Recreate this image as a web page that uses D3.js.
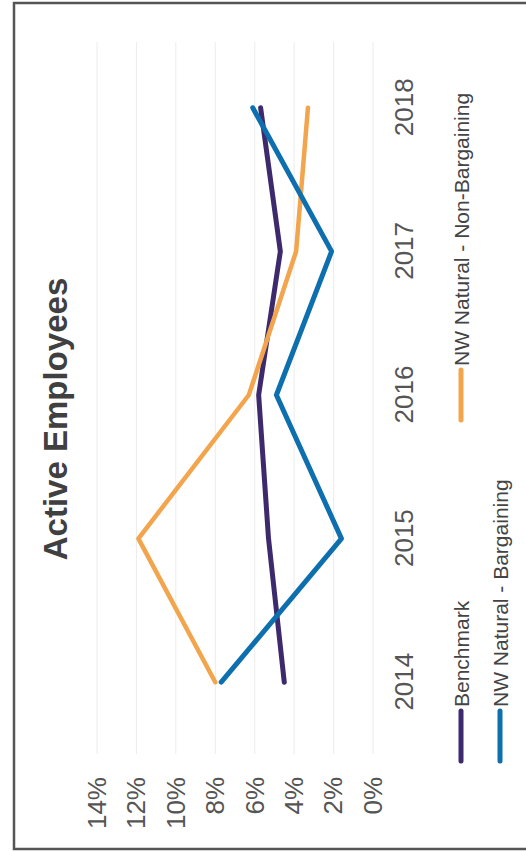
<!DOCTYPE html>
<html>
<head>
<meta charset="utf-8">
<script src="https://cdn.jsdelivr.net/npm/d3@7"></script>
<style>
  body { margin: 0; background: #fff; }
  text { font-family: "Liberation Sans", Arial, sans-serif; }
</style>
</head>
<body>
<div id="container"></div>
<script>
// CONSTANTS AND GLOBALS
// the picture is a scanned page turned on its side, so the chart is drawn
// in its normal frame (852 wide, 526 tall) and rotated -90deg
const pageW = 526, pageH = 852;
const W = pageH, H = pageW;
const margin = {left: 98, right: 36, top: 97, bottom: 153};

// DATA
const years = ["2014", "2015", "2016", "2017", "2018"];
const benchmark = [0.045, 0.053, 0.058, 0.047, 0.057];
const bargaining = [0.077, 0.016, 0.049, 0.021, 0.061];
const nonBargaining = [0.080, 0.119, 0.063, 0.039, 0.033];
const yTicks = [0, 0.02, 0.04, 0.06, 0.08, 0.10, 0.12, 0.14];

const series = [
  {name: "Benchmark", values: benchmark, color: "#3d2a6c", width: 5},
  {name: "NW Natural - Non-Bargaining", values: nonBargaining, color: "#f2a54c", width: 4.5},
  {name: "NW Natural - Bargaining", values: bargaining, color: "#0d6fae", width: 5}
];

const svg = d3.select("#container")
  .append("svg")
  .attr("width", pageW)
  .attr("height", pageH);

// scanned frame
svg.append("path")
  .attr("d", "M530,3 L14,3 L14,849 L530,849")
  .attr("fill", "none")
  .attr("stroke", "#555")
  .attr("stroke-width", 2.5);

const g = svg.append("g")
  .attr("transform", `translate(0, ${pageH}) rotate(-90)`);

// SCALES
const xScale = d3.scalePoint()
  .domain(years)
  .range([margin.left, W - margin.right])
  .padding(0.5);

const yScale = d3.scaleLinear()
  .domain([0, 0.14])
  .range([373, margin.top]);

// gridlines
g.selectAll("line.grid")
  .data(yTicks)
  .join("line")
  .attr("class", "grid")
  .attr("x1", margin.left)
  .attr("x2", W - 42)
  .attr("y1", d => yScale(d))
  .attr("y2", d => yScale(d))
  .attr("stroke", "#ececec")
  .attr("stroke-width", 1);

// y axis labels
const yAxis = d3.axisLeft(yScale)
  .tickValues(yTicks)
  .tickFormat(d3.format(".0%"))
  .tickSize(0)
  .tickPadding(0);

g.append("g")
  .attr("class", "yAxis")
  .attr("transform", `translate(75, 0)`)
  .call(yAxis)
  .call(s => s.select(".domain").remove())
  .selectAll("text")
  .attr("font-size", 26)
  .attr("fill", "#555")
  .attr("font-family", "'Liberation Sans', Arial, sans-serif");

// x axis labels
const xAxis = d3.axisBottom(xScale).tickSize(0).tickPadding(0);

g.append("g")
  .attr("class", "xAxis")
  .attr("transform", `translate(0, 395)`)
  .call(xAxis)
  .call(s => s.select(".domain").remove())
  .selectAll("text")
  .attr("dy", "0.71em")
  .attr("font-size", 26)
  .attr("fill", "#555")
  .attr("font-family", "'Liberation Sans', Arial, sans-serif");

// lines
const lineGen = d3.line()
  .x((d, i) => xScale(years[i]))
  .y(d => yScale(d));

g.selectAll("path.line")
  .data(series)
  .join("path")
  .attr("class", "line")
  .attr("fill", "none")
  .attr("stroke", d => d.color)
  .attr("stroke-width", d => d.width)
  .attr("stroke-linejoin", "round")
  .attr("stroke-linecap", "round")
  .attr("d", d => lineGen(d.values));

// title
g.append("text")
  .attr("x", 433)
  .attr("y", 67)
  .attr("text-anchor", "middle")
  .attr("font-size", 33)
  .attr("font-weight", "bold")
  .attr("fill", "#404040")
  .text("Active Employees");

// legend
const legendItems = [
  {s: series[0], x: 89, y: 461},
  {s: series[1], x: 430, y: 461},
  {s: series[2], x: 89, y: 500}
];

const legend = g.selectAll("g.legend")
  .data(legendItems)
  .join("g")
  .attr("class", "legend")
  .attr("transform", d => `translate(${d.x}, ${d.y})`);

legend.append("line")
  .attr("x1", 2).attr("x2", 52)
  .attr("stroke", d => d.s.color)
  .attr("stroke-width", 5)
  .attr("stroke-linecap", "round");

legend.append("text")
  .attr("x", 56)
  .attr("y", 7.5)
  .attr("font-size", 21)
  .attr("fill", "#444")
  .text(d => d.s.name);
</script>
</body>
</html>
